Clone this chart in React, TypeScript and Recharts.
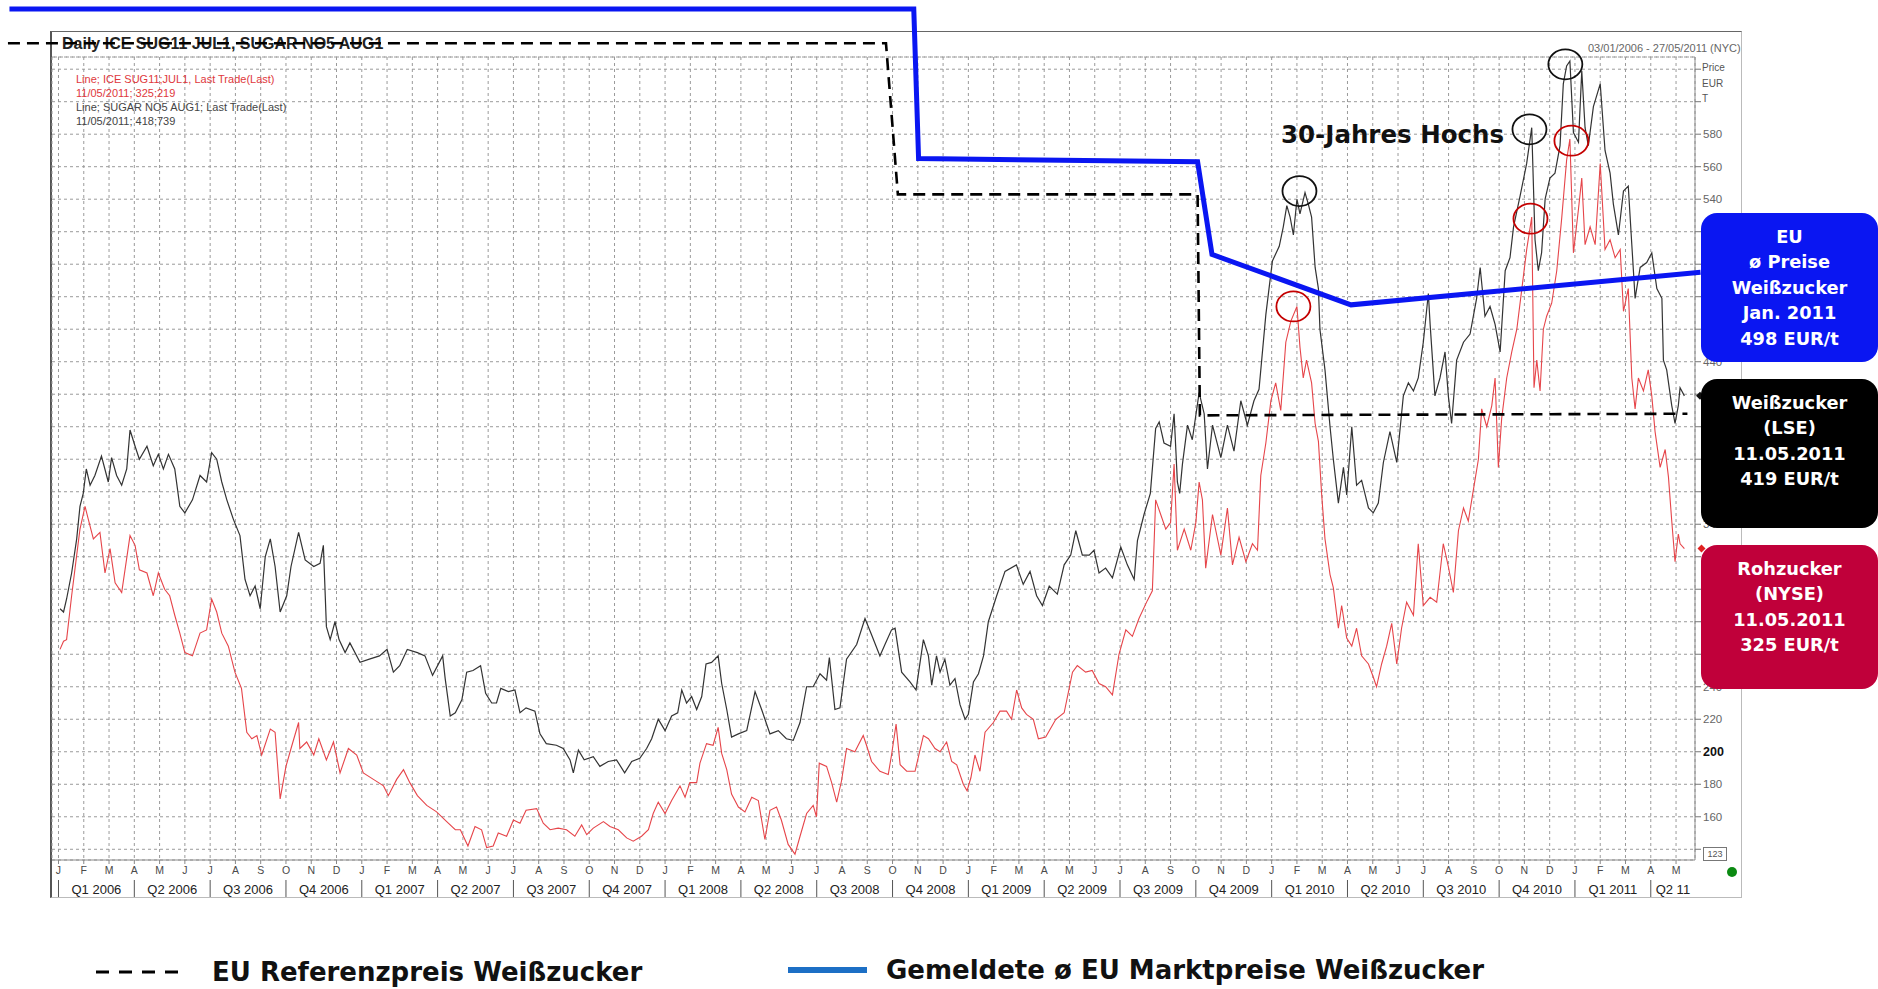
import React from "react";
import {
  ComposedChart,
  Line,
  XAxis,
  YAxis,
  CartesianGrid,
  Scatter,
  ReferenceDot,
  ReferenceLine,
} from "recharts";

// ---------------- DATA (month index: 0 = Jan 2006, value in EUR/t) ----------------
const monthLetters = ["J", "F", "M", "A", "M", "J", "J", "A", "S", "O", "N", "D"];
const quarterLabels = [
  "Q1 2006", "Q2 2006", "Q3 2006", "Q4 2006",
  "Q1 2007", "Q2 2007", "Q3 2007", "Q4 2007",
  "Q1 2008", "Q2 2008", "Q3 2008", "Q4 2008",
  "Q1 2009", "Q2 2009", "Q3 2009", "Q4 2009",
  "Q1 2010", "Q2 2010", "Q3 2010", "Q4 2010",
  "Q1 2011", "Q2 11",
];
const priceTicks = [140, 160, 180, 200, 220, 240, 260, 280, 300, 320, 340, 360, 380, 400, 420, 440, 460, 480, 500, 520, 540, 560, 580, 600, 620];

// SUGAR NO5 AUG1 (Weißzucker, LSE) – black
const whiteSugar: [number, number][] = [
  [0.06,288],[0.2,286],[0.32,294],[0.52,310],[0.72,331],[0.85,351],[0.98,359],[1.1,374],[1.25,364],[1.44,370],[1.7,382],[1.97,366],[2.1,381],[2.3,370],[2.5,364],[2.7,374],[2.83,398],[3.03,388],[3.2,380],[3.5,388],[3.75,376],[3.95,383],[4.15,374],[4.35,383],[4.6,374],[4.8,351],[5.0,347],[5.3,355],[5.6,370],[5.86,366],[6.06,384],[6.26,380],[6.46,366],[6.66,355],[6.92,343],[7.18,333],[7.38,306],[7.58,296],[7.78,302],[7.98,288],[8.18,320],[8.38,331],[8.57,314],[8.77,286],[9.03,296],[9.2,314],[9.5,335],[9.76,318],[10.1,314],[10.35,316],[10.48,327],[10.6,277],[10.75,269],[10.94,280],[11.1,269],[11.34,261],[11.53,267],[11.93,255],[12.3,257],[12.7,259],[13.0,263],[13.25,249],[13.5,253],[13.8,263],[14.2,261],[14.5,259],[14.8,247],[15.2,259],[15.3,245],[15.5,222],[15.7,224],[15.96,232],[16.15,249],[16.4,250],[16.7,253],[16.9,236],[17.14,230],[17.33,230],[17.5,239],[17.8,237],[18.06,238],[18.26,224],[18.5,227],[18.85,225],[19.05,211],[19.3,205],[19.7,204],[19.97,202],[20.24,195],[20.37,187],[20.57,201],[20.8,195],[21.16,197],[21.42,191],[21.75,194],[22.08,195],[22.4,187],[22.68,194],[23.0,196],[23.27,202],[23.47,208],[23.73,220],[24.0,213],[24.26,222],[24.5,224],[24.66,238],[24.85,230],[25.05,234],[25.25,226],[25.45,234],[25.62,254],[25.84,255],[26.1,259],[26.24,242],[26.44,226],[26.63,209],[26.9,211],[27.23,213],[27.56,237],[27.82,226],[28.15,211],[28.48,213],[28.8,208],[29.07,207],[29.34,218],[29.6,240],[29.86,240],[30.13,248],[30.39,244],[30.5,258],[30.72,226],[30.92,227],[31.18,257],[31.58,266],[31.91,282],[32.17,272],[32.5,259],[32.7,266],[32.96,275],[33.1,276],[33.36,249],[33.69,243],[33.93,238],[34.22,269],[34.42,259],[34.55,241],[34.74,259],[34.88,249],[35.07,257],[35.27,241],[35.47,245],[35.67,229],[35.87,220],[36.0,223],[36.2,243],[36.4,248],[36.6,259],[36.79,280],[37.12,296],[37.45,311],[37.9,315],[38.17,303],[38.44,311],[38.7,296],[38.93,290],[39.2,302],[39.52,297],[39.79,315],[40.05,321],[40.25,336],[40.51,321],[40.78,321],[40.97,324],[41.17,310],[41.43,313],[41.7,307],[42.03,326],[42.29,315],[42.56,306],[42.69,330],[42.95,346],[43.2,359],[43.41,399],[43.55,403],[43.74,390],[44.0,388],[44.14,408],[44.27,366],[44.36,359],[44.47,377],[44.67,401],[44.86,392],[45.13,421],[45.33,408],[45.46,374],[45.66,401],[45.99,381],[46.25,401],[46.51,385],[46.78,416],[47.04,401],[47.3,416],[47.5,423],[47.77,469],[48.03,502],[48.3,511],[48.46,523],[48.6,536],[48.73,529],[48.86,518],[49.0,540],[49.12,531],[49.32,544],[49.45,537],[49.58,529],[49.72,498],[49.85,485],[49.91,460],[50.11,435],[50.31,400],[50.44,380],[50.64,353],[50.84,375],[50.97,358],[51.17,400],[51.36,364],[51.56,367],[51.83,350],[52.02,347],[52.22,353],[52.42,378],[52.68,397],[52.95,378],[53.21,419],[53.41,427],[53.61,422],[53.8,430],[54.0,452],[54.2,482],[54.27,463],[54.46,419],[54.66,430],[54.86,446],[54.99,419],[55.12,402],[55.32,441],[55.59,452],[55.85,457],[56.11,479],[56.25,498],[56.44,468],[56.64,474],[56.84,463],[57.04,446],[57.24,496],[57.43,504],[57.57,523],[57.83,542],[58.09,562],[58.29,584],[58.42,515],[58.55,496],[58.68,507],[58.82,540],[59.01,553],[59.21,556],[59.41,573],[59.54,611],[59.67,622],[59.8,625],[59.94,581],[60.14,575],[60.27,619],[60.4,584],[60.53,573],[60.73,597],[61.0,611],[61.19,570],[61.39,556],[61.52,537],[61.72,518],[61.92,545],[62.11,548],[62.25,512],[62.38,479],[62.58,498],[62.84,501],[63.04,507],[63.24,485],[63.44,479],[63.5,441],[63.63,435],[63.83,413],[63.96,402],[64.09,413],[64.16,424],[64.33,419],
];

// ICE SUG11 JUL1 (Rohzucker, NYSE) – red
const rawSugar: [number, number][] = [
  [0.06,263],[0.2,268],[0.32,269],[0.52,296],[0.72,321],[0.85,337],[1.05,351],[1.18,343],[1.38,331],[1.64,335],[1.84,310],[2.04,325],[2.24,304],[2.5,298],[2.83,333],[3.03,327],[3.2,312],[3.5,310],[3.75,296],[3.95,310],[4.2,300],[4.4,296],[4.6,284],[4.8,273],[5.0,261],[5.3,259],[5.6,273],[5.86,275],[6.06,294],[6.26,286],[6.46,273],[6.72,265],[6.98,249],[7.24,239],[7.45,212],[7.65,208],[7.85,210],[8.04,198],[8.38,214],[8.57,212],[8.77,171],[9.0,191],[9.2,202],[9.5,218],[9.55,202],[9.82,206],[10.1,198],[10.3,208],[10.6,195],[10.88,206],[11.14,187],[11.47,202],[11.8,198],[12.06,187],[12.46,183],[12.86,179],[13.05,173],[13.38,183],[13.65,189],[13.9,181],[14.2,173],[14.57,167],[14.96,163],[15.36,157],[15.7,152],[15.9,152],[16.2,142],[16.48,154],[16.74,152],[16.94,141],[17.2,142],[17.4,150],[17.73,148],[18.0,158],[18.26,156],[18.5,164],[18.92,165],[19.18,156],[19.45,152],[19.77,153],[20.1,152],[20.43,148],[20.7,155],[20.9,149],[21.16,153],[21.56,157],[21.82,154],[22.15,152],[22.48,147],[22.74,145],[23.07,148],[23.34,152],[23.53,162],[23.73,169],[24.0,162],[24.26,170],[24.59,179],[24.79,172],[24.98,181],[25.25,181],[25.38,193],[25.64,205],[25.9,204],[26.1,215],[26.24,199],[26.44,189],[26.63,174],[26.9,166],[27.16,163],[27.43,172],[27.69,170],[27.95,146],[28.15,164],[28.41,166],[28.6,158],[28.87,143],[29.14,137],[29.34,148],[29.6,162],[29.86,167],[29.99,160],[30.1,193],[30.39,191],[30.59,181],[30.79,169],[30.98,182],[31.18,202],[31.51,200],[31.84,210],[31.97,204],[32.17,194],[32.5,188],[32.83,186],[32.96,198],[33.14,217],[33.3,192],[33.56,188],[33.89,188],[34.22,210],[34.42,208],[34.68,202],[34.88,200],[35.14,206],[35.34,194],[35.54,192],[35.8,180],[35.95,176],[36.1,184],[36.26,198],[36.46,188],[36.66,212],[36.99,218],[37.25,225],[37.51,225],[37.71,220],[37.91,238],[38.11,227],[38.3,223],[38.57,220],[38.77,208],[39.06,209],[39.46,220],[39.79,224],[40.12,249],[40.31,253],[40.64,249],[40.9,250],[41.17,242],[41.43,240],[41.7,235],[41.96,260],[42.23,275],[42.49,271],[42.75,282],[43.08,293],[43.28,299],[43.41,355],[43.61,346],[43.81,337],[44.0,341],[44.14,377],[44.27,324],[44.54,337],[44.8,324],[45.0,341],[45.13,366],[45.26,355],[45.39,313],[45.66,346],[45.99,321],[46.25,350],[46.45,315],[46.71,332],[46.98,317],[47.24,328],[47.44,324],[47.57,370],[47.77,390],[47.97,416],[48.16,427],[48.36,410],[48.56,452],[48.76,465],[49.0,474],[49.12,449],[49.25,430],[49.38,441],[49.58,427],[49.72,402],[49.85,391],[49.98,358],[50.11,331],[50.31,309],[50.44,301],[50.64,276],[50.77,290],[50.97,270],[51.17,265],[51.36,276],[51.56,259],[51.83,254],[52.02,246],[52.15,240],[52.35,254],[52.55,265],[52.75,279],[52.95,254],[53.14,276],[53.34,292],[53.61,284],[53.8,328],[54.0,290],[54.27,295],[54.53,292],[54.79,328],[54.99,314],[55.19,298],[55.39,336],[55.59,350],[55.78,342],[55.98,361],[56.18,380],[56.31,411],[56.51,400],[56.71,413],[56.84,430],[56.97,375],[57.1,405],[57.3,430],[57.5,446],[57.7,460],[57.9,485],[58.09,509],[58.29,529],[58.38,424],[58.49,441],[58.62,422],[58.75,460],[58.88,468],[59.08,476],[59.28,496],[59.48,529],[59.67,564],[59.8,577],[59.94,507],[60.14,534],[60.27,553],[60.4,512],[60.6,523],[60.8,512],[61.0,562],[61.19,509],[61.39,515],[61.59,504],[61.79,509],[61.92,471],[62.11,485],[62.25,430],[62.38,411],[62.51,430],[62.71,422],[62.9,435],[63.04,419],[63.17,397],[63.37,375],[63.57,386],[63.7,369],[63.83,342],[63.96,317],[64.09,334],[64.16,328],[64.33,325],
];

// EU Referenzpreis Weißzucker (dashed overlay)
const euReferencePrice: [number, number][] = [
  [-2.0, 636], [32.74, 636], [33.21, 543], [45.07, 543], [45.16, 407], [64.45, 408],
];
// Gemeldete ø EU Marktpreise Weißzucker (blue overlay)
const euMarketPrice: [number, number][] = [
  [-1.94, 657], [33.84, 657], [34.03, 565], [45.07, 563], [45.64, 506], [51.14, 475], [64.97, 495],
];
// 30-year highs (circled)
const highsWhite: [number, number][] = [[49.1, 545], [58.2, 583], [59.62, 623]];
const highsRaw: [number, number][] = [[48.86, 474], [58.24, 528], [59.86, 576]];

const blueBoxLines = ["EU", "ø Preise", "Weißzucker", "Jan. 2011", "498 EUR/t"];
const blackBoxLines = ["Weißzucker", "(LSE)", "11.05.2011", "419 EUR/t"];
const redBoxLines = ["Rohzucker", "(NYSE)", "11.05.2011", "325 EUR/t"];

// ---------------- LAYOUT ----------------
const W = 1878;
const H = 989;
const PLOT_LEFT = 52;
const PLOT_RIGHT = 1695;
const PLOT_TOP = 57;
const PLOT_BOTTOM = 860;
const X_MIN = -0.257;
const X_MAX = 64.75;
const Y_MIN = 133.4;
const Y_MAX = 627.5;
const Y_AXIS_W = 60;
const X_AXIS_H = 38;

const PXM = (PLOT_RIGHT - PLOT_LEFT) / (X_MAX - X_MIN);
const PYU = (PLOT_BOTTOM - PLOT_TOP) / (Y_MAX - Y_MIN);
const OVER_X: [number, number] = [X_MIN - PLOT_LEFT / PXM, X_MAX + (W - PLOT_RIGHT) / PXM];
const OVER_Y: [number, number] = [Y_MIN - (H - PLOT_BOTTOM) / PYU, Y_MAX + PLOT_TOP / PYU];

const toPts = (arr: [number, number][]) => arr.map(([m, v]) => ({ m, v }));
const whiteData = toPts(whiteSugar);
const rawData = toPts(rawSugar);
const refData = toPts(euReferencePrice);
const marketData = toPts(euMarketPrice);
const highsWhiteData = toPts(highsWhite);
const highsRawData = toPts(highsRaw);

const monthTicks = Array.from({ length: 65 }, (_, i) => i);
const quarterStarts = quarterLabels.map((_, i) => i * 3);
const quarterCenters = quarterStarts.map((s) => Math.min(s + 1.5, (s + X_MAX) / 2));

const SANS = "'Liberation Sans', Arial, sans-serif";
const BOLD_SANS = "'DejaVu Sans', Verdana, sans-serif";

const MonthTick = (props: any) => {
  const { x, payload } = props;
  const m = payload.value as number;
  const q = Math.floor(m / 3);
  const isQuarterStart = m % 3 === 0 && q < quarterLabels.length;
  return (
    <g>
      <text x={x} y={PLOT_BOTTOM + 14} textAnchor="middle" fontSize={10.5} fill="#4a4a4a" fontFamily={SANS}>
        {monthLetters[m % 12]}
      </text>
      {isQuarterStart && (
        <line x1={x} x2={x} y1={PLOT_BOTTOM + 20} y2={PLOT_BOTTOM + 37} stroke="#555" strokeWidth={1} />
      )}
      {isQuarterStart && (
        <text
          x={x + (quarterCenters[q] - quarterStarts[q]) * PXM}
          y={PLOT_BOTTOM + 33.5}
          textAnchor="middle"
          fontSize={13}
          fill="#222"
          fontFamily={SANS}
        >
          {quarterLabels[q]}
        </text>
      )}
    </g>
  );
};

const PriceTick = (props: any) => {
  const { x, y, payload } = props;
  const v = payload.value;
  if (v > 580 || v < 160) return <g />;
  const bold = v === 200;
  return (
    <text
      x={x}
      y={y + 4}
      textAnchor="start"
      fontSize={bold ? 12.5 : 11.5}
      fontWeight={bold ? 700 : 400}
      fill={bold ? "#111" : "#666"}
      fontFamily={SANS}
    >
      {v}
    </text>
  );
};

const boxStyle = (top: number, height: number, bg: string): React.CSSProperties => ({
  position: "absolute",
  left: 1701,
  top,
  width: 177,
  height,
  background: bg,
  borderRadius: 16,
  color: "#fff",
  fontFamily: BOLD_SANS,
  fontWeight: 700,
  fontSize: 17.8,
  lineHeight: "25.4px",
  textAlign: "center",
  paddingTop: 11,
  boxSizing: "border-box",
  whiteSpace: "nowrap",
});

export default function App() {
  return (
    <div style={{ position: "absolute", left: 0, top: 0, width: W, height: H, background: "#fff", overflow: "hidden", fontFamily: SANS }}>
      {/* chart frame */}
      <div
        style={{
          position: "absolute",
          left: 50,
          top: 31,
          width: 1692,
          height: 867,
          borderTop: "1.5px solid #666",
          borderLeft: "2px solid #555",
          borderRight: "1px solid #bbb",
          borderBottom: "1px solid #bbb",
          boxSizing: "border-box",
        }}
      />

      {/* main price chart */}
      <div style={{ position: "absolute", left: 0, top: 0 }}>
        <ComposedChart
          width={W}
          height={H}
          margin={{ top: PLOT_TOP, left: PLOT_LEFT, right: W - PLOT_RIGHT - Y_AXIS_W, bottom: H - PLOT_BOTTOM - X_AXIS_H }}
        >
          <CartesianGrid xAxisId="m" yAxisId="p" stroke="#9a9a9a" strokeDasharray="3 3" strokeWidth={1} />
          <ReferenceLine xAxisId="m" yAxisId="p" y={Y_MAX} stroke="#9a9a9a" strokeDasharray="3 3" />
          <XAxis
            xAxisId="m"
            type="number"
            dataKey="m"
            domain={[X_MIN, X_MAX]}
            allowDataOverflow
            ticks={monthTicks}
            interval={0}
            height={X_AXIS_H}
            tickSize={4}
            tickLine={{ stroke: "#888" }}
            axisLine={{ stroke: "#8a8a8a" }}
            tick={(p: any) => <MonthTick {...p} />}
          />
          <YAxis
            yAxisId="p"
            orientation="right"
            type="number"
            domain={[Y_MIN, Y_MAX]}
            allowDataOverflow
            ticks={priceTicks}
            interval={0}
            width={Y_AXIS_W}
            tickSize={6}
            tickMargin={2}
            tickLine={{ stroke: "#777" }}
            axisLine={{ stroke: "#8a8a8a" }}
            tick={(p: any) => <PriceTick {...p} />}
          />
          <Line xAxisId="m" yAxisId="p" data={rawData} dataKey="v" type="linear" stroke="#e6454a" strokeWidth={1.1} dot={false} isAnimationActive={false} />
          <Line xAxisId="m" yAxisId="p" data={whiteData} dataKey="v" type="linear" stroke="#333" strokeWidth={1.2} dot={false} isAnimationActive={false} />
          <ReferenceDot
            xAxisId="m"
            yAxisId="p"
            x={X_MAX}
            y={rawSugar[rawSugar.length - 1][1]}
            ifOverflow="visible"
            shape={(p: any) => <path d={`M${p.cx + 6.5},${p.cy - 4} l4,4 l-4,4 l-4,-4 z`} fill="#e02020" />}
          />
          <ReferenceDot
            xAxisId="m"
            yAxisId="p"
            x={X_MAX}
            y={whiteSugar[whiteSugar.length - 1][1]}
            ifOverflow="visible"
            shape={(p: any) => <path d={`M${p.cx + 5},${p.cy - 4} l4,4 l-4,4 l-4,-4 z`} fill="#111" />}
          />
        </ComposedChart>
      </div>

      {/* chart header texts */}
      <div style={{ position: "absolute", left: 62, top: 35, fontSize: 16, fontWeight: 700, color: "#222", lineHeight: "18px", whiteSpace: "nowrap" }}>
        Daily ICE SUG11 JUL1, SUGAR NO5 AUG1
      </div>
      <div style={{ position: "absolute", left: 1588, top: 42, fontSize: 11, color: "#666", lineHeight: "12px", whiteSpace: "nowrap" }}>
        03/01/2006 - 27/05/2011 (NYC)
      </div>
      <div style={{ position: "absolute", left: 1702, top: 60, fontSize: 10, color: "#555", lineHeight: "15.5px" }}>
        <div>Price</div>
        <div>EUR</div>
        <div>T</div>
      </div>
      <div style={{ position: "absolute", left: 76, top: 72, fontSize: 11, lineHeight: "14px", whiteSpace: "nowrap" }}>
        <div style={{ color: "#e0383c" }}>Line; ICE SUG11;JUL1, Last Trade(Last)</div>
        <div style={{ color: "#e0383c" }}>11/05/2011; 325;219</div>
        <div style={{ color: "#444" }}>Line; SUGAR NO5 AUG1; Last Trade(Last)</div>
        <div style={{ color: "#444" }}>11/05/2011; 418;739</div>
      </div>
      <div
        style={{
          position: "absolute",
          left: 1703,
          top: 847,
          width: 22,
          height: 12,
          border: "1px solid #777",
          fontSize: 9,
          lineHeight: "12px",
          textAlign: "center",
          color: "#555",
          background: "#fff",
        }}
      >
        123
      </div>
      <div style={{ position: "absolute", left: 1727, top: 867, width: 10, height: 10, borderRadius: "50%", background: "#0b8a12" }} />

      {/* overlay: EU reference price, EU market price, highs */}
      <div style={{ position: "absolute", left: 0, top: 0 }}>
        <ComposedChart width={W} height={H} margin={{ top: 0, left: 0, right: 0, bottom: 0 }}>
          <XAxis xAxisId="o" type="number" dataKey="m" domain={OVER_X} allowDataOverflow hide />
          <YAxis yAxisId="o" type="number" dataKey="v" domain={OVER_Y} allowDataOverflow hide />
          <Line xAxisId="o" yAxisId="o" data={refData} dataKey="v" type="linear" stroke="#000" strokeWidth={2.6} strokeDasharray="12 7" dot={false} isAnimationActive={false} />
          <Line xAxisId="o" yAxisId="o" data={marketData} dataKey="v" type="linear" stroke="#0a16f2" strokeWidth={5} dot={false} isAnimationActive={false} strokeLinejoin="miter" />
          <Scatter
            xAxisId="o"
            yAxisId="o"
            data={highsWhiteData}
            dataKey="v"
            isAnimationActive={false}
            shape={(p: any) => <ellipse cx={p.cx} cy={p.cy} rx={17} ry={15} fill="none" stroke="#111" strokeWidth={1.8} />}
          />
          <Scatter
            xAxisId="o"
            yAxisId="o"
            data={highsRawData}
            dataKey="v"
            isAnimationActive={false}
            shape={(p: any) => <ellipse cx={p.cx} cy={p.cy} rx={17} ry={15} fill="none" stroke="#c40000" strokeWidth={1.8} />}
          />
        </ComposedChart>
      </div>

      <div style={{ position: "absolute", left: 1281, top: 120, fontFamily: BOLD_SANS, fontWeight: 700, fontSize: 24.5, lineHeight: "30px", color: "#111", whiteSpace: "nowrap" }}>
        30-Jahres Hochs
      </div>

      {/* info boxes */}
      <div style={boxStyle(213, 149, "#0a16f2")}>
        {blueBoxLines.map((t) => (
          <div key={t}>{t}</div>
        ))}
      </div>
      <div style={boxStyle(379, 149, "#000")}>
        {blackBoxLines.map((t) => (
          <div key={t}>{t}</div>
        ))}
      </div>
      <div style={boxStyle(545, 144, "#c0003a")}>
        {redBoxLines.map((t) => (
          <div key={t}>{t}</div>
        ))}
      </div>

      {/* bottom legend */}
      <svg style={{ position: "absolute", left: 0, top: 955 }} width={900} height={34}>
        <line x1={96} x2={181} y1={17} y2={17} stroke="#000" strokeWidth={3} strokeDasharray="13 10" />
        <line x1={788} x2={867} y1={15} y2={15} stroke="#1d6fc5" strokeWidth={6} />
      </svg>
      <div style={{ position: "absolute", left: 212, top: 957, fontFamily: BOLD_SANS, fontWeight: 700, fontSize: 26, lineHeight: "30px", color: "#111", whiteSpace: "nowrap" }}>
        EU Referenzpreis Weißzucker
      </div>
      <div style={{ position: "absolute", left: 886, top: 955, fontFamily: BOLD_SANS, fontWeight: 700, fontSize: 26, lineHeight: "30px", color: "#111", whiteSpace: "nowrap" }}>
        Gemeldete ø EU Marktpreise Weißzucker
      </div>
    </div>
  );
}
